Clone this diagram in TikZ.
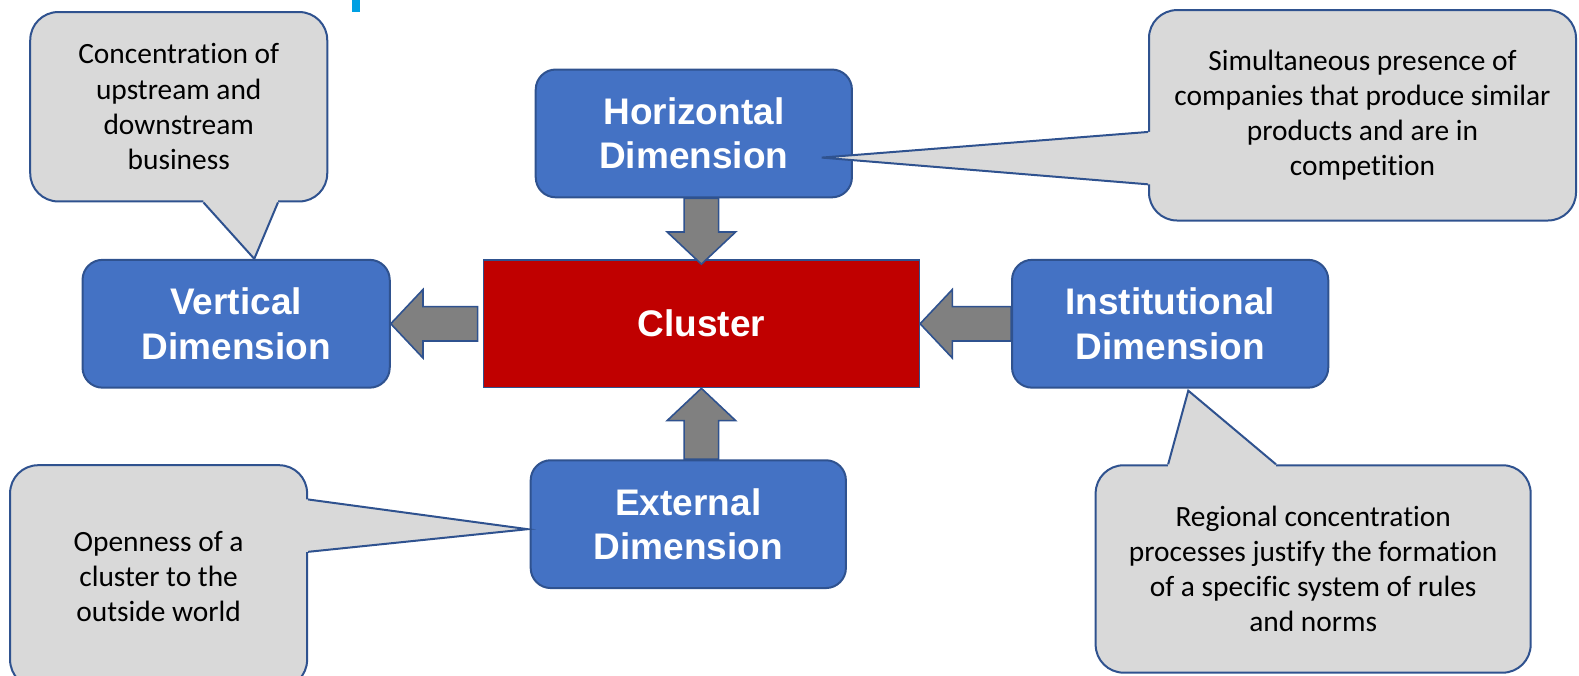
\documentclass[tikz,border=0pt]{standalone}
\usepackage{fontspec}
\setmainfont{Carlito}[Ligatures=NoCommon]
\newfontfamily\boxfont{Liberation Sans}
\usepackage{tikz}
\usetikzlibrary{calc,positioning}
\usepackage{xcolor}
\definecolor{dimblue}{RGB}{68,114,196}
\definecolor{dimborder}{RGB}{47,82,143}
\definecolor{clusred}{RGB}{192,0,0}
\definecolor{notegray}{RGB}{217,217,217}
\definecolor{arrowgray}{RGB}{128,128,128}
\definecolor{barcyan}{RGB}{0,160,227}
\tikzstyle{dimension} = [rectangle, rounded corners=10pt, minimum width=158.1pt, minimum height=63.9pt, inner sep=0pt, text centered, align=center, draw=dimborder, fill=dimblue, line width=1pt, text=white, font=\boxfont\bfseries\fontsize{18.5}{22.2}\selectfont]
\tikzstyle{core} = [dimension, sharp corners, minimum width=218pt, fill=clusred, line width=0.7pt]
\tikzstyle{note} = [rectangle, rounded corners=14pt, inner sep=0pt, align=center, draw=dimborder, fill=notegray, line width=1pt, font=\fontsize{14.7}{17.6}\selectfont]
\tikzstyle{tail} = [draw=dimborder, line width=1pt, line join=miter]
\tikzstyle{fatarrow} = [draw=dimborder, fill=arrowgray, line width=0.8pt]
% block arrow from #1 to #2
\newcommand{\blockarrow}[2]{%
  \path ($(#2)!16.1pt!(#1)$) coordinate (hb);
  \draw[fatarrow] ($(#1)!8.6pt!90:(#2)$) -- ($(hb)!8.6pt!90:(#2)$) -- ($(hb)!17.1pt!90:(#2)$) -- (#2)
    -- ($(hb)!17.1pt!-90:(#2)$) -- ($(hb)!8.6pt!-90:(#2)$) -- ($(#1)!8.6pt!-90:(#2)$) -- cycle;}
% callout pointer: base #1, tip #2, base #3, inward shift #4
\newcommand{\notetail}[4]{%
  \fill[notegray] (#1) -- (#2) -- (#3) -- ($(#3)+(#4)$) -- ($(#1)+(#4)$) -- cycle;
  \draw[tail] (#1) -- (#2) -- (#3);}

\begin{document}
\begin{tikzpicture}[x=0.5035pt, y=-0.5035pt]
\useasboundingbox (0,0) rectangle (1568,671);
\clip (0,0) rectangle (1568,671);
\fill[barcyan] (350,0) rectangle (357,12);

% Central node
\node[core] (clus) at (696.5,321.5) {Cluster};

% Four dimensions
\node[dimension] (horiz) at (689,132.5) {Horizontal\\Dimension};
\node[dimension, minimum width=153.6pt] (vert) at (234.5,321.5) {Vertical\\Dimension};
\node[dimension] (inst) at (1162,321.5) {Institutional\\Dimension};
\node[dimension, minimum width=157.6pt] (ext) at (683.5,520.5) {External\\Dimension};

% Arrows
\coordinate (htail) at (clus.north |- horiz.south);
\coordinate (etail) at (clus.south |- ext.north);
\coordinate (vtail) at ($(clus.west)+(-5,0)$);
\blockarrow{htail}{$(clus.north)+(0,5)$}
\blockarrow{etail}{clus.south}
\blockarrow{vtail}{vert.east}
\blockarrow{inst.west}{clus.east}

% Callouts
\node[note, minimum width=148.5pt, minimum height=94.7pt] (vertnote) at (177.5,106) {Concentration of\\upstream and\\downstream\\business};
\coordinate (v1) at ($(vertnote.south west)+(173,0)$);
\coordinate (v2) at ($(vertnote.south west)+(247,0)$);
\coordinate (vtip) at ($(vert.north)+(18,0)$);
\notetail{v1}{vtip}{v2}{0,-4}

\node[note, minimum width=213.5pt, minimum height=105.2pt] (horiznote) at (1353,114.5) {Simultaneous presence of\\companies that produce similar\\products and are in\\competition};
\coordinate (h1) at ($(horiznote.north west)+(0,122)$);
\coordinate (h2) at ($(horiznote.north west)+(0,174)$);
\coordinate (htip) at ($(horiz.east)+(-31,24)$);
\notetail{h1}{htip}{h2}{4,0}

\node[note, minimum width=148.5pt, minimum height=111.3pt] (extnote) at (157.5,572.5) {Openness of a\\cluster to the\\outside world};
\coordinate (e1) at ($(extnote.north east)+(0,35)$);
\coordinate (e2) at ($(extnote.north east)+(0,87)$);
\coordinate (etip) at ($(ext.west)+(-2,5)$);
\notetail{e1}{etip}{e2}{-4,0}

\node[note, minimum width=217.5pt, minimum height=103.7pt] (instnote) at (1304,565) {Regional concentration\\processes justify the formation\\of a specific system of rules\\and norms};
\coordinate (i1) at ($(instnote.north west)+(73,0)$);
\coordinate (i2) at ($(instnote.north west)+(180,0)$);
\coordinate (itip) at ($(inst.south)+(18,2)$);
\notetail{i1}{itip}{i2}{0,4}
\end{tikzpicture}
\end{document}
